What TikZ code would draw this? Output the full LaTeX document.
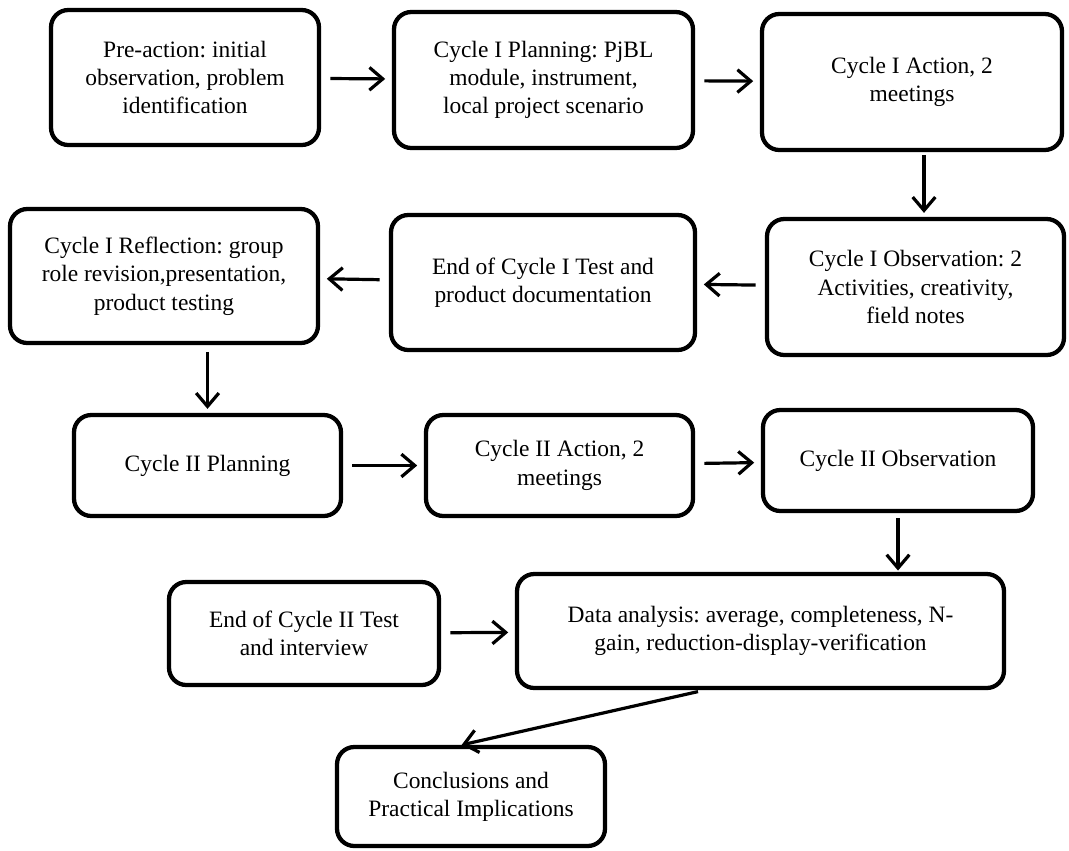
\documentclass[tikz,border=0pt]{standalone}
\usepackage{fontspec}
\setmainfont{Liberation Serif}
\usetikzlibrary{arrows.meta}
\newcommand{\PX}{0.75pt}

\begin{document}
\frenchspacing
\begin{tikzpicture}[
    x=\PX, y=-\PX,
    font=\fontsize{17.6}{21.2}\selectfont,
    stage/.style={draw, line width=3.2pt, rounded corners=13pt, align=center, inner sep=2pt},
    flow/.style={-{Straight Barb[length=10pt, width=17pt]}, line width=2.4pt, shorten <=7pt, shorten >=5pt},
  ]
\useasboundingbox (0,0) rectangle (1069,850);

% --- The stages, row by row --------------------------------------------------------
\foreach \name/\cx/\cy/\w/\h/\text in {
    pre/185/77.5/268/135/{Pre-action: initial\\observation, problem\\identification},
    plan1/543.5/80/299/136/{Cycle I Planning: PjBL\\module, instrument,\\local project scenario},
    act1/912/82/300/136/{Cycle I Action, 2\\meetings},
    obs1/915.5/287/297/136/{Cycle I Observation: 2\\Activities, creativity,\\field notes},
    test1/543/282.5/304/135/{End of Cycle I Test and\\product documentation},
    refl1/164/276/308/134/{Cycle I Reflection: group\\role revision,presentation,\\product testing},
    plan2/207.5/465.5/267/101/{Cycle II Planning},
    act2/559.5/465.5/267/101/{Cycle II Action, 2\\meetings},
    obs2/898/460.5/270/101/{Cycle II Observation},
    test2/304/633.5/270/103/{End of Cycle II Test\\and interview},
    data/760.5/631/487/114/{Data analysis: average, completeness, N-\\gain, reduction-display-verification},
    concl/471/796.5/268/99/{Conclusions and\\Practical Implications}} {
  \node[stage, minimum width=\w*\PX, minimum height=\h*\PX] (\name) at (\cx,\cy) {\text};
}

% --- Cycle I ---------------------------------------------------------------------------
\draw[flow] (pre) -- (plan1);
\draw[flow] (plan1) -- (act1);
\draw[flow, shorten <=2pt, shorten >=3pt] ([xshift=9pt]act1.south) -- ([xshift=9pt]act1.south |- obs1.north);
\draw[flow] (obs1) -- (test1);
\draw[flow] (test1) -- (refl1);
\draw[flow, shorten <=5pt, shorten >=3pt] (refl1.south -| plan2) -- (plan2);

% --- Cycle II and the analysis ---------------------------------------------------------
\draw[flow] (plan2) -- (act2);
\draw[flow] (act2) -- (obs2);
\draw[flow, shorten <=4pt, shorten >=1pt] (obs2) -- (obs2 |- data.north);
\draw[flow] (test2) -- (data);
\draw[flow, shorten <=5pt, shorten >=0pt] ([xshift=-42pt]data.south) -- ([xshift=-7pt]concl.north);

\end{tikzpicture}
\end{document}
